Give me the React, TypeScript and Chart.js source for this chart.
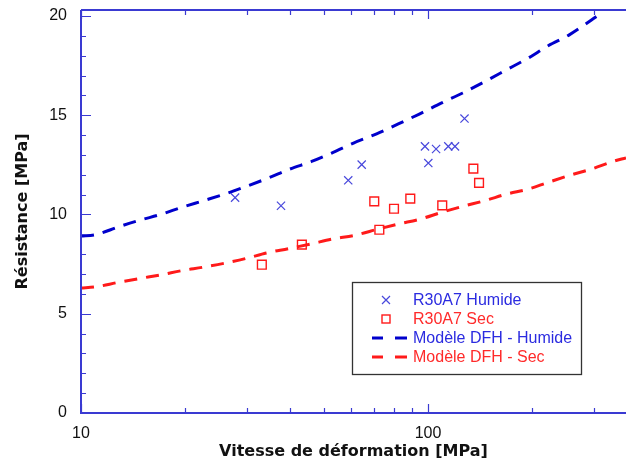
import React, { useEffect, useRef } from 'react';
import { Chart, registerables } from 'chart.js';
Chart.register(...registerables);

// Measured data
const humideX = [27.8, 37.7, 58.9, 64.4, 98.0, 100.2, 105.5, 114.4, 119.6, 127.4];
const humideY = [10.85, 10.44, 11.72, 12.51, 13.43, 12.59, 13.3, 13.43, 13.43, 14.83];
const secX = [33.2, 43.3, 70.0, 72.4, 79.8, 88.9, 109.9, 135.1, 140.3];
const secY = [7.47, 8.48, 10.66, 9.23, 10.29, 10.8, 10.46, 12.31, 11.59];

const modelHumideX = [10, 11, 12.8, 14.7, 17.1, 19.5, 22.6, 26.2, 30, 34.7, 40, 46.2, 53.3, 61, 71.1, 82.1, 94.4, 109.5, 125.9, 145.9, 168.5, 194.5, 222, 256, 296.5, 306];
const modelHumideY = [8.92, 8.98, 9.37, 9.7, 10.02, 10.36, 10.7, 11.05, 11.42, 11.84, 12.29, 12.67, 13.13, 13.6, 14.06, 14.56, 15.06, 15.62, 16.12, 16.7, 17.29, 17.88, 18.5, 19.06, 19.81, 19.98];
const modelSecX = [10, 11, 12.8, 14.7, 17.1, 19.5, 22.6, 26.2, 30, 34.2, 39.6, 45.8, 53.3, 61.5, 72, 82.1, 95.1, 109.5, 126, 146, 168.5, 194.5, 222, 256, 296, 341, 372];
const modelSecY = [6.3, 6.35, 6.58, 6.77, 6.97, 7.17, 7.35, 7.56, 7.79, 8.06, 8.28, 8.51, 8.77, 8.95, 9.27, 9.52, 9.77, 10.11, 10.41, 10.7, 11.03, 11.28, 11.62, 11.97, 12.29, 12.67, 12.85];

const xTickLabels = [10, 100];
const yTickLabels = [0, 5, 10, 15, 20];
const xMinorTicks = [20, 30, 40, 50, 60, 70, 80, 90, 200, 300];

const legendLabels = ['R30A7 Humide', 'R30A7 Sec', 'Modèle DFH - Humide', 'Modèle DFH - Sec'];

const BLUE_LINE = '#0000cc';
const BLUE_MARK = '#4848dc';
const RED = '#ff1a1a';
const AXIS = '#3a3ad2';

const zip = (xs: number[], ys: number[]) => xs.map((x, i) => ({ x, y: ys[i] }));

const framePlugin = {
  id: 'frame',
  afterDraw(chart: any) {
    const { ctx, chartArea, scales } = chart;
    const xs = scales.x;
    const ys = scales.y;
    const { left, right, top, bottom } = chartArea;
    ctx.save();
    ctx.strokeStyle = AXIS;
    ctx.lineWidth = 2;
    ctx.beginPath();
    ctx.moveTo(left, top);
    ctx.lineTo(left, bottom);
    ctx.lineTo(right, bottom);
    ctx.moveTo(left, top);
    ctx.lineTo(right, top);
    ctx.stroke();
    ctx.lineWidth = 1.2;
    ctx.beginPath();
    for (let v = 0; v <= 20; v++) {
      const y = Math.round(ys.getPixelForValue(v)) + 0.5;
      const len = v % 5 === 0 ? 10 : 5;
      ctx.moveTo(left, y);
      ctx.lineTo(left + len, y);
    }
    const xt = [...xTickLabels.map((v) => ({ v, len: 9 })), ...xMinorTicks.map((v) => ({ v, len: 5 }))];
    xt.forEach(({ v, len }) => {
      const x = Math.round(xs.getPixelForValue(v)) + 0.5;
      ctx.moveTo(x, bottom);
      ctx.lineTo(x, bottom - len);
      ctx.moveTo(x, top);
      ctx.lineTo(x, top + len);
    });
    ctx.stroke();

    // legend
    const bx = 352, by = 282, bw = 229, bh = 92;
    ctx.fillStyle = '#ffffff';
    ctx.fillRect(bx, by, bw, bh);
    ctx.strokeStyle = '#333333';
    ctx.lineWidth = 1.3;
    ctx.strokeRect(bx + 0.5, by + 0.5, bw, bh);
    const rows = [300, 319, 338, 357];
    const colors = [BLUE_MARK, RED, BLUE_LINE, RED];
    const textColors = ['#2b2be0', '#ff2a2a', '#2b2be0', '#ff2a2a'];
    ctx.font = '16px "Liberation Sans", Arial, sans-serif';
    ctx.textBaseline = 'middle';
    ctx.textAlign = 'left';
    rows.forEach((ry, i) => {
      ctx.strokeStyle = colors[i];
      if (i === 0) {
        ctx.lineWidth = 1.2;
        ctx.beginPath();
        ctx.moveTo(382, ry - 4);
        ctx.lineTo(390, ry + 4);
        ctx.moveTo(390, ry - 4);
        ctx.lineTo(382, ry + 4);
        ctx.stroke();
      } else if (i === 1) {
        ctx.lineWidth = 1.4;
        ctx.strokeRect(382, ry - 4, 8, 8);
      } else {
        ctx.lineWidth = 3;
        ctx.beginPath();
        ctx.moveTo(372, ry);
        ctx.lineTo(383, ry);
        ctx.moveTo(395, ry);
        ctx.lineTo(407, ry);
        ctx.stroke();
      }
      ctx.fillStyle = textColors[i];
      ctx.fillText(legendLabels[i], 413, ry + 1);
    });
    ctx.restore();
  },
};

export default function App() {
  const ref = useRef<HTMLCanvasElement | null>(null);
  useEffect(() => {
    if (!ref.current) return;
    const chart = new Chart(ref.current, {
      type: 'scatter',
      data: {
        datasets: [
          {
            type: 'line',
            label: legendLabels[2],
            data: zip(modelHumideX, modelHumideY),
            borderColor: BLUE_LINE,
            borderWidth: 3,
            borderDash: [13, 9],
            pointRadius: 0,
            cubicInterpolationMode: 'monotone',
            fill: false,
          } as any,
          {
            type: 'line',
            label: legendLabels[3],
            data: zip(modelSecX, modelSecY),
            borderColor: RED,
            borderWidth: 3,
            borderDash: [13, 9],
            pointRadius: 0,
            cubicInterpolationMode: 'monotone',
            fill: false,
          } as any,
          {
            label: legendLabels[0],
            data: zip(humideX, humideY),
            pointStyle: 'crossRot',
            pointRadius: 5.8,
            borderColor: BLUE_MARK,
            backgroundColor: BLUE_MARK,
            borderWidth: 1.2,
          },
          {
            label: legendLabels[1],
            data: zip(secX, secY),
            pointStyle: 'rect',
            pointRadius: 6.2,
            borderColor: RED,
            backgroundColor: 'rgba(0,0,0,0)',
            borderWidth: 1.4,
          },
        ],
      },
      options: {
        animation: false,
        responsive: false,
        layout: { autoPadding: false, padding: { top: 10, left: 0, right: 0, bottom: 0 } },
        plugins: { legend: { display: false }, tooltip: { enabled: false } },
        scales: {
          x: {
            type: 'logarithmic',
            min: 10,
            max: 372,
            grid: { display: false, drawTicks: false },
            border: { display: false },
            afterBuildTicks: (s: any) => {
              s.ticks = xTickLabels.map((v) => ({ value: v }));
            },
            afterFit: (s: any) => {
              s.height = 50;
              s.paddingLeft = 0;
              s.paddingRight = 0;
              s.paddingTop = 0;
              s.paddingBottom = 0;
            },
            ticks: {
              autoSkip: false,
              maxRotation: 0,
              padding: 11,
              color: '#111',
              font: { family: '"Liberation Sans", Arial, sans-serif', size: 16 },
              callback: (v: any) => String(v),
            },
            title: {
              display: true,
              text: 'Vitesse de déformation [MPa]',
              color: '#111',
              font: { family: '"DejaVu Sans", Verdana, sans-serif', size: 16, weight: 'bold' },
              padding: { top: 0, bottom: 2 },
            },
          },
          y: {
            type: 'linear',
            min: 0,
            max: 20.3,
            grid: { display: false, drawTicks: false },
            border: { display: false },
            afterBuildTicks: (s: any) => {
              s.ticks = yTickLabels.map((v) => ({ value: v }));
            },
            afterFit: (s: any) => {
              s.width = 81;
              s.paddingLeft = 0;
              s.paddingRight = 0;
              s.paddingTop = 0;
              s.paddingBottom = 0;
            },
            ticks: {
              padding: 14,
              color: '#111',
              font: { family: '"Liberation Sans", Arial, sans-serif', size: 16 },
              callback: (v: any) => String(v),
            },
            title: {
              display: true,
              text: 'Résistance [MPa]',
              color: '#111',
              font: { family: '"DejaVu Sans", Verdana, sans-serif', size: 16, weight: 'bold' },
              padding: { top: 13, bottom: 0 },
            },
          },
        },
      },
      plugins: [framePlugin],
    });
    return () => chart.destroy();
  }, []);
  return (
    <div style={{ position: 'fixed', left: 0, top: 0, width: 626, height: 463, background: '#fff' }}>
      <canvas ref={ref} width={626} height={463} style={{ display: 'block' }} />
    </div>
  );
}
